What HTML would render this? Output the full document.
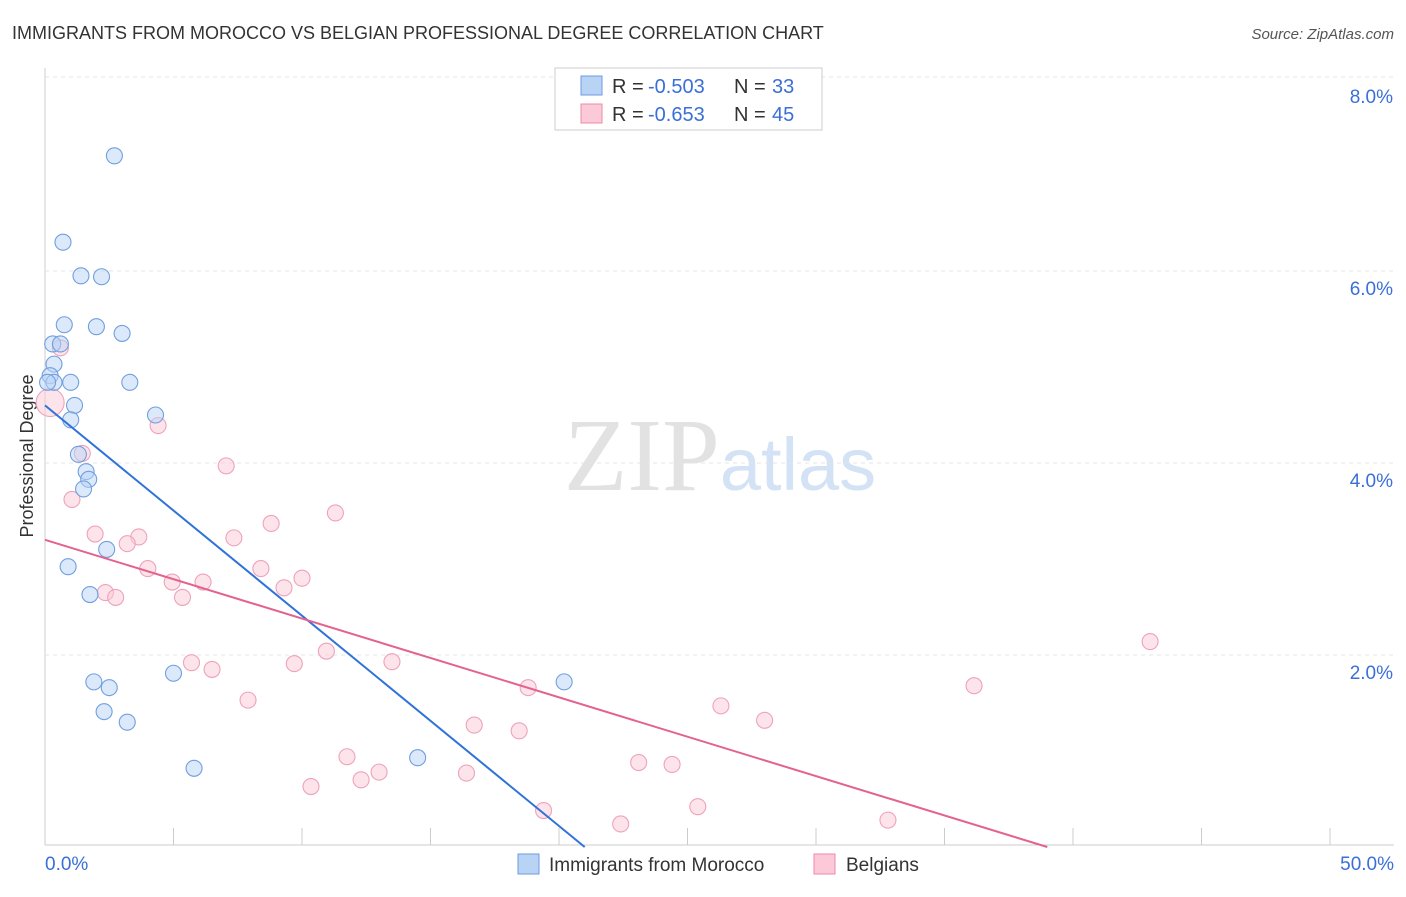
<!DOCTYPE html>
<html><head><meta charset="utf-8"><style>
body{margin:0;background:#fff;font-family:"Liberation Sans",sans-serif}
</style></head><body>
<svg width="1406" height="892" xmlns="http://www.w3.org/2000/svg" id="svg">
<text x="12" y="39" font-size="18" fill="#333">IMMIGRANTS FROM MOROCCO VS BELGIAN PROFESSIONAL DEGREE CORRELATION CHART</text>
<text x="1394" y="39" font-size="15" fill="#555" text-anchor="end" font-style="italic">Source: ZipAtlas.com</text>
<text x="720" y="490" font-size="104" text-anchor="middle" fill="#e2e2e2" font-family="Liberation Serif">ZIP<tspan fill="#d4e2f5" font-family="Liberation Sans" font-size="74">atlas</tspan></text>
<text transform="translate(33,456) rotate(-90)" font-size="18" fill="#333" text-anchor="middle">Professional Degree</text>
<g id="grid"></g><g id="marks"></g>
<g>
<rect x="555" y="68" width="267" height="62" fill="#fff" stroke="#ccc"/>
<rect x="581" y="76" width="21" height="19" fill="#b9d3f5" stroke="#6a9be0"/>
<rect x="581" y="104" width="21" height="19" fill="#fbc9d8" stroke="#ec8aaa"/>
<text x="612" y="93" font-size="20" fill="#333">R =</text><text x="648" y="93" font-size="20" fill="#3a6fd8">-0.503</text>
<text x="734" y="93" font-size="20" fill="#333">N =</text><text x="772" y="93" font-size="20" fill="#3a6fd8">33</text>
<text x="612" y="121" font-size="20" fill="#333">R =</text><text x="648" y="121" font-size="20" fill="#3a6fd8">-0.653</text>
<text x="734" y="121" font-size="20" fill="#333">N =</text><text x="772" y="121" font-size="20" fill="#3a6fd8">45</text>
</g>
<g>
<rect x="518" y="854" width="21" height="20" fill="#b9d3f5" stroke="#6a9be0"/>
<text x="549" y="871" font-size="19" fill="#333">Immigrants from Morocco</text>
<rect x="814" y="854" width="21" height="20" fill="#fbc9d8" stroke="#ec8aaa"/>
<text x="846" y="871" font-size="19" fill="#333">Belgians</text>
</g>
</svg>
<script>
const xTicks=[0,5,10,15,20,25,30,35,40,45,50];
const yTicks=[2,4,6,8];
const blueX=[2.7,0.7,1.4,2.2,0.75,2.0,3.0,0.3,0.6,0.35,0.2,0.35,1.0,3.3,1.15,4.3,1.0,1.3,1.6,1.7,1.5,2.4,0.9,1.75,1.9,2.5,5.0,2.3,3.2,5.8,14.5,20.2,0.1];
const blueY=[7.2,6.3,5.95,5.94,5.44,5.42,5.35,5.24,5.24,5.03,4.91,4.84,4.84,4.84,4.6,4.5,4.45,4.09,3.91,3.83,3.73,3.1,2.92,2.63,1.72,1.66,1.81,1.41,1.3,0.82,0.93,1.72,4.84];
const pinkX=[0.6,0.2,4.4,1.45,7.05,1.05,11.3,8.8,1.95,3.65,7.35,3.2,4.0,8.4,4.95,6.15,10.0,9.3,2.35,2.75,5.35,10.95,5.7,9.7,13.5,6.5,7.9,18.8,26.3,28.0,16.7,18.45,11.75,13.0,16.4,12.3,10.35,23.1,24.4,25.4,19.4,22.4,32.8,43.0,36.15];
const pinkY=[5.2,4.63,4.39,4.1,3.97,3.62,3.48,3.37,3.26,3.23,3.22,3.16,2.9,2.9,2.76,2.76,2.8,2.7,2.65,2.6,2.6,2.04,1.92,1.91,1.93,1.85,1.53,1.66,1.47,1.32,1.27,1.21,0.94,0.78,0.77,0.7,0.63,0.88,0.86,0.42,0.38,0.24,0.28,2.14,1.68];
const blueLine=[[0,4.6],[21,0]];
const pinkLine=[[0,3.2],[39,0]];
const X=v=>45+v*25.7, Y=v=>847-v*96;
const NS='http://www.w3.org/2000/svg';
function mk(t,a,p){const e=document.createElementNS(NS,t);for(const k in a)e.setAttribute(k,a[k]);p.appendChild(e);return e;}
const g=document.getElementById('grid'),m=document.getElementById('marks');
mk('line',{x1:45,y1:68,x2:45,y2:845,stroke:'#ccc'},g);
mk('line',{x1:45,y1:845,x2:1394,y2:845,stroke:'#ccc'},g);
yTicks.forEach(t=>{const yy=t==8?Y(t)-2:Y(t);const l=mk('line',{x1:45,y1:yy,x2:1394,y2:yy,stroke:'#e4e4e4','stroke-dasharray':'4,4'},g);

const tx=mk('text',{x:1393,y:Y(t)+24,'font-size':19,fill:'#3a6fd8','text-anchor':'end'},g);tx.textContent=t.toFixed(1)+'%';
});
xTicks.forEach(t=>{const l=mk('line',{x1:X(t),y1:828,x2:X(t),y2:845,stroke:'#ccc'},g);
});
[[0,'0.0%','start',45],[50,'50.0%','end',1394]].forEach(a=>{const tx=mk('text',{x:a[3],y:870,'font-size':19,fill:'#3a6fd8','text-anchor':a[2]},g);tx.textContent=a[1];
});
function pts(xs,ys,f,s,n){xs.forEach((x,i)=>{const r=(n=='pink'&&i==1)?14:8;const c=mk('circle',{cx:X(x),cy:Y(ys[i]),r:r,fill:f,'fill-opacity':0.5,stroke:s,'stroke-width':1.1},m);
});}
pts(pinkX,pinkY,'#fbc9d8','#eea2bb','pink');
pts(blueX,blueY,'#b9d3f5','#6f9fe0','blue');
const bl=mk('line',{x1:X(blueLine[0][0]),y1:Y(blueLine[0][1]),x2:X(blueLine[1][0]),y2:Y(blueLine[1][1]),stroke:'#2f72d8','stroke-width':2},m);

const pl=mk('line',{x1:X(pinkLine[0][0]),y1:Y(pinkLine[0][1]),x2:X(pinkLine[1][0]),y2:Y(pinkLine[1][1]),stroke:'#e4628f','stroke-width':2},m);

</script>
</body></html>
